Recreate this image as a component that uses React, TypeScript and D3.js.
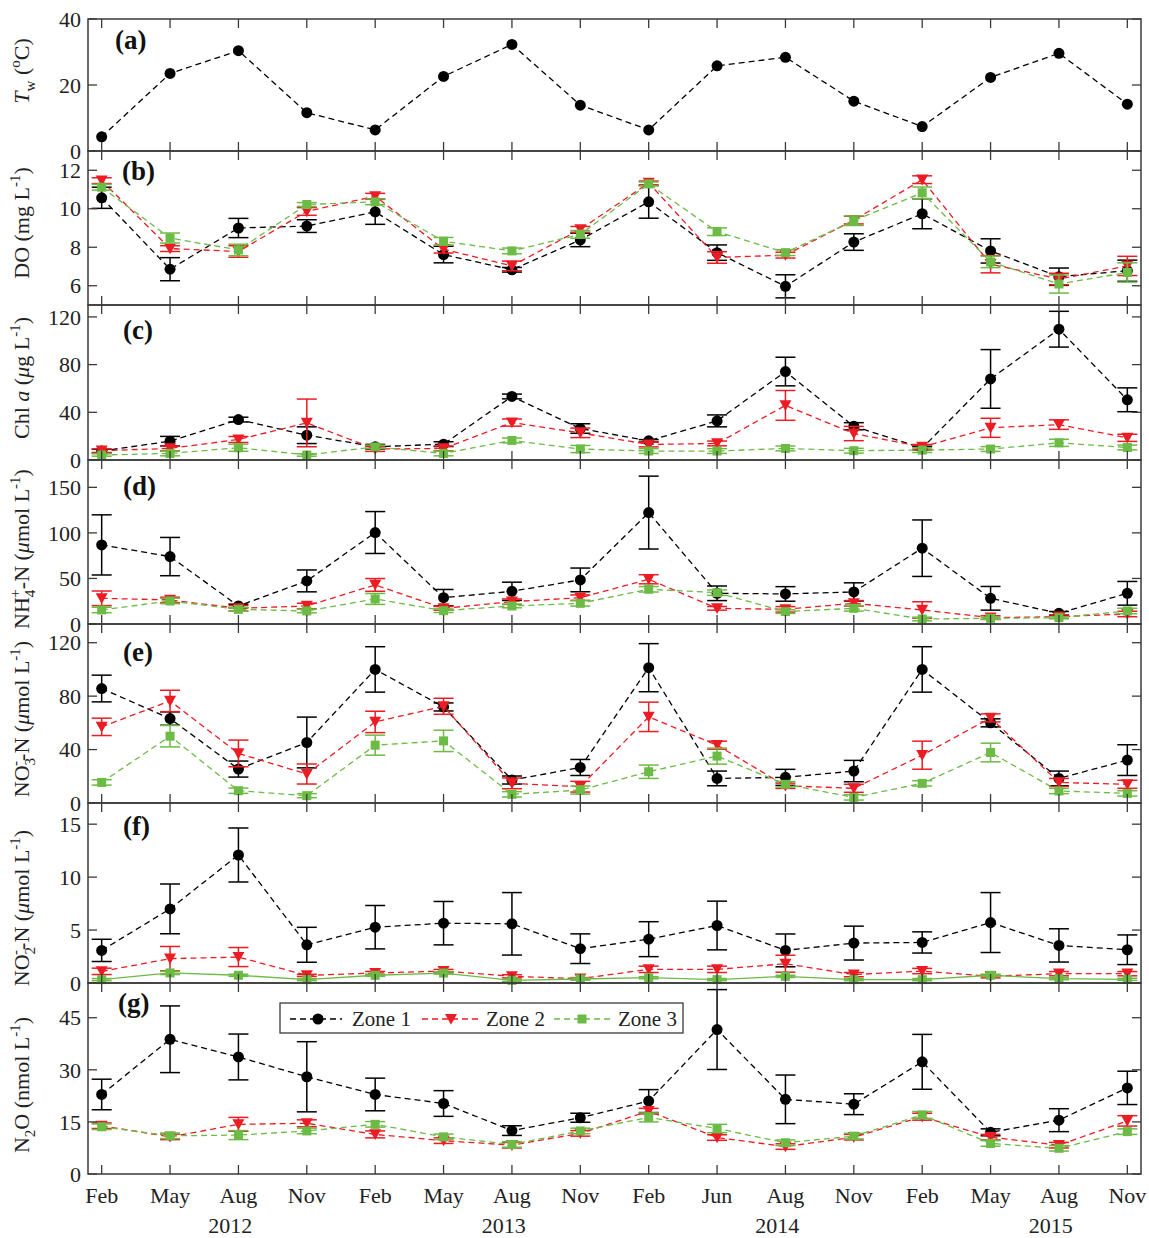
import React from 'react';
import * as d3 from 'd3';

const months = ['Feb','May','Aug','Nov','Feb','May','Aug','Nov','Feb','Jun','Aug','Nov','Feb','May','Aug','Nov'];
const years = ['2012','2013','2014','2015'];
const zones = ['Zone 1','Zone 2','Zone 3'];

const tw = [4.3, 23.5, 30.4, 11.6, 6.4, 22.6, 32.3, 13.9, 6.4, 25.8, 28.4, 15.1, 7.4, 22.3, 29.6, 14.2];

const doZ1 = [10.57, 6.86, 9.0, 9.1, 9.84, 7.62, 6.83, 8.38, 10.36, 7.72, 5.97, 8.27, 9.74, 7.81, 6.47, 6.78];
const doZ1Err = [0.55, 0.6, 0.5, 0.33, 0.65, 0.43, 0.12, 0.35, 0.85, 0.4, 0.6, 0.43, 0.78, 0.63, 0.45, 0.55];
const doZ2 = [11.46, 7.93, 7.78, 9.86, 10.65, 7.9, 7.03, 8.93, 11.34, 7.47, 7.59, 9.41, 11.51, 7.12, 6.35, 7.03];
const doZ2Err = [0.15, 0.15, 0.3, 0.2, 0.15, 0.2, 0.25, 0.15, 0.1, 0.3, 0.15, 0.2, 0.2, 0.45, 0.3, 0.5];
const doZ3 = [11.12, 8.48, 7.86, 10.22, 10.36, 8.31, 7.81, 8.67, 11.29, 8.81, 7.72, 9.38, 10.83, 7.24, 6.09, 6.69];
const doZ3Err = [0.15, 0.26, 0.3, 0.1, 0.15, 0.2, 0.15, 0.2, 0.1, 0.2, 0.15, 0.25, 0.3, 0.3, 0.47, 0.5];

const chlZ1 = [7.5, 15.8, 33.9, 20.8, 11.1, 13.3, 53.3, 26.4, 16.1, 32.8, 74.2, 28.3, 10, 68, 109.7, 50.5];
const chlZ1Err = [1.5, 4, 2, 7, 2, 2, 2, 4, 1, 5, 12, 3, 1.5, 24.6, 15, 10];
const chlZ2 = [7.8, 9.7, 17.2, 31.1, 9.2, 9.7, 31.4, 22.8, 13, 13.9, 45.8, 22.2, 11, 27, 29.7, 18.6];
const chlZ2Err = [1.5, 2, 2.5, 20, 2, 2, 3, 4, 2, 2, 12.5, 6, 2, 8, 4, 3];
const chlZ3 = [4.2, 5.5, 10.3, 4.2, 11, 5.5, 16.4, 9.2, 7.5, 7.5, 9.7, 7.8, 8.3, 9.2, 14.4, 10.5];
const chlZ3Err = [1, 2, 3, 1, 1.5, 2, 2, 3, 2, 2, 2, 2, 2, 2, 3, 2];

const nhZ1 = [86.8, 74, 19.8, 47.3, 100.4, 28.9, 35.9, 48.4, 122.3, 33.7, 33, 35.2, 83.2, 28.2, 11.7, 33.7];
const nhZ1Err = [33, 21, 2, 12, 23, 9, 10, 13, 40, 8, 8, 10, 31, 13, 2, 13];
const nhZ2 = [28.2, 26.4, 17.2, 19.8, 42.9, 17.2, 24.5, 28.9, 49.1, 17.2, 16.1, 22.7, 15.4, 7, 8, 11];
const nhZ2Err = [8, 3, 3, 3, 7, 2, 3, 3, 5, 2, 3, 3, 9, 2, 2, 3];
const nhZ3 = [15.4, 25.3, 16.1, 14.3, 27.5, 14.6, 19.8, 22.7, 38.1, 34.4, 13.6, 17.2, 5.5, 6.2, 7, 14.3];
const nhZ3Err = [3, 3, 2, 2, 6, 2, 2, 3, 3, 3, 2, 3, 2, 1, 1, 3];

const no3Z1 = [85.7, 63.2, 25.4, 45.3, 100, 71.9, 17.2, 26.6, 101.3, 18.4, 19.2, 23.9, 100, 60, 18.4, 32.1];
const no3Z1Err = [10, 5, 6, 19, 17, 3, 3, 6, 18, 5.5, 6, 8, 17, 3, 5.5, 11.5];
const no3Z2 = [57, 76.4, 37.1, 21.7, 60.7, 72.4, 14.7, 12.2, 64.5, 43.3, 12.9, 11, 35.8, 63.7, 15.4, 14];
const no3Z2Err = [6.5, 8, 10, 7.5, 8, 6, 4, 4, 11, 3, 2, 3, 10.5, 3, 3, 3];
const no3Z3 = [15.4, 50, 9.2, 5.5, 43.3, 46.5, 6.5, 9.7, 23.4, 35.1, 14, 4.2, 14.7, 37.8, 9, 7.2];
const no3Z3Err = [2, 8, 2, 1.5, 7.5, 8, 2, 3, 5, 6, 2, 2, 2, 7, 2, 2];

const no2Z1 = [3.08, 7.0, 12.09, 3.61, 5.27, 5.65, 5.59, 3.24, 4.14, 5.43, 3.08, 3.77, 3.83, 5.71, 3.55, 3.14];
const no2Z1Err = [1.05, 2.35, 2.55, 1.65, 2.05, 2.05, 2.95, 1.4, 1.65, 2.3, 1.55, 1.6, 1.0, 2.83, 1.57, 1.4];
const no2Z2 = [1.1, 2.3, 2.45, 0.72, 0.94, 1.13, 0.63, 0.41, 1.29, 1.29, 1.82, 0.79, 1.13, 0.63, 0.88, 0.88];
const no2Z2Err = [0.3, 1.15, 0.9, 0.1, 0.15, 0.15, 0.15, 0.1, 0.3, 0.3, 0.8, 0.2, 0.25, 0.15, 0.2, 0.2];
const no2Z3 = [0.32, 0.95, 0.73, 0.32, 0.73, 0.94, 0.25, 0.38, 0.5, 0.32, 0.63, 0.32, 0.32, 0.73, 0.41, 0.35];
const no2Z3Err = [0.1, 0.15, 0.1, 0.1, 0.1, 0.1, 0.1, 0.1, 0.1, 0.1, 0.1, 0.1, 0.1, 0.1, 0.1, 0.1];

const n2oZ1 = [22.9, 38.8, 33.7, 28, 22.9, 20.3, 12.5, 16.2, 21, 41.6, 21.5, 20.1, 32.3, 12, 15.5, 24.8];
const n2oZ1Err = [4.4, 9.6, 6.6, 10.1, 4.7, 3.7, 1.4, 1.3, 3.3, 11.5, 7, 3, 7.9, 1, 3.3, 4.8];
const n2oZ2 = [13.9, 10.7, 14.3, 14.6, 11.4, 9.6, 8.3, 11.7, 18.1, 10.5, 7.9, 10.6, 16.5, 10.6, 8.3, 15.3];
const n2oZ2Err = [0.8, 0.8, 2, 1, 1, 0.8, 0.8, 0.8, 0.8, 0.8, 0.8, 0.8, 1, 0.8, 0.8, 1.5];
const n2oZ3 = [13.6, 11, 11.2, 12.4, 14.3, 10.7, 8.5, 12.4, 16.3, 13.1, 9, 10.9, 17, 8.8, 7.4, 12.2];
const n2oZ3Err = [0.8, 0.8, 1.3, 0.8, 0.8, 0.8, 0.8, 0.8, 1.3, 1.2, 0.8, 0.8, 1, 0.8, 0.8, 0.8];

const COLORS = ['#000000', '#ec1c24', '#6cbb45'];
const AXIS = '#3a3a3a';
const FONT = '"Liberation Serif", "Times New Roman", serif';

type Seg = { t: string; s?: 'sub' | 'sup'; it?: boolean; back?: number };

const panels = [
  { tag: '(a)', tagX: 115, tagY: 49, top: 19, bottom: 151, domain: [0, 40], ticks: [0, 20, 40], labelY: 71,
    label: [{ t: 'T', it: true }, { t: 'w', s: 'sub' }, { t: ' (' }, { t: 'o', s: 'sup' }, { t: 'C)' }] as Seg[],
    series: [{ v: tw, e: null as number[] | null }] },
  { tag: '(b)', tagX: 122, tagY: 180, top: 151, bottom: 305, domain: [5, 13], ticks: [6, 8, 10, 12], labelY: 223,
    label: [{ t: 'DO (mg L' }, { t: '-1', s: 'sup' }, { t: ')' }] as Seg[],
    series: [{ v: doZ1, e: doZ1Err }, { v: doZ2, e: doZ2Err }, { v: doZ3, e: doZ3Err }] },
  { tag: '(c)', tagX: 123, tagY: 339, top: 305, bottom: 460, domain: [0, 130], ticks: [0, 40, 80, 120], labelY: 378,
    label: [{ t: 'Chl ' }, { t: 'a', it: true }, { t: ' (' }, { t: 'μ', it: true }, { t: 'g L' }, { t: '-1', s: 'sup' }, { t: ')' }] as Seg[],
    series: [{ v: chlZ1, e: chlZ1Err }, { v: chlZ2, e: chlZ2Err }, { v: chlZ3, e: chlZ3Err }] },
  { tag: '(d)', tagX: 123, tagY: 495, top: 460, bottom: 624, domain: [0, 180], ticks: [0, 50, 100, 150], labelY: 549,
    label: [{ t: 'NH' }, { t: '4', s: 'sub' }, { t: '+', s: 'sup', back: 8 }, { t: '-N (' }, { t: 'μ', it: true }, { t: 'mol L' }, { t: '-1', s: 'sup' }, { t: ')' }] as Seg[],
    series: [{ v: nhZ1, e: nhZ1Err }, { v: nhZ2, e: nhZ2Err }, { v: nhZ3, e: nhZ3Err }] },
  { tag: '(e)', tagX: 123, tagY: 661, top: 624, bottom: 803, domain: [0, 134], ticks: [0, 40, 80, 120], labelY: 719,
    label: [{ t: 'NO' }, { t: '3', s: 'sub' }, { t: '-', s: 'sup', back: 8 }, { t: '-N (' }, { t: 'μ', it: true }, { t: 'mol L' }, { t: '-1', s: 'sup' }, { t: ')' }] as Seg[],
    series: [{ v: no3Z1, e: no3Z1Err }, { v: no3Z2, e: no3Z2Err }, { v: no3Z3, e: no3Z3Err }] },
  { tag: '(f)', tagX: 123, tagY: 835, top: 803, bottom: 983, domain: [0, 17], ticks: [0, 5, 10, 15], labelY: 908, solidLast: true,
    label: [{ t: 'NO' }, { t: '2', s: 'sub' }, { t: '-', s: 'sup', back: 8 }, { t: '-N (' }, { t: 'μ', it: true }, { t: 'mol L' }, { t: '-1', s: 'sup' }, { t: ')' }] as Seg[],
    series: [{ v: no2Z1, e: no2Z1Err }, { v: no2Z2, e: no2Z2Err }, { v: no2Z3, e: no2Z3Err }] },
  { tag: '(g)', tagX: 118, tagY: 1012, top: 983, bottom: 1174, domain: [0, 55], ticks: [0, 15, 30, 45], labelY: 1085,
    label: [{ t: 'N' }, { t: '2', s: 'sub' }, { t: 'O (nmol L' }, { t: '-1', s: 'sup' }, { t: ')' }] as Seg[],
    series: [{ v: n2oZ1, e: n2oZ1Err }, { v: n2oZ2, e: n2oZ2Err }, { v: n2oZ3, e: n2oZ3Err }] },
];

const LEFT = 88;
const RIGHT = 1141;
const x = d3.scaleLinear().domain([-0.2, 15.2]).range([LEFT, RIGHT]);
const TICK = 9;

function Marker({ kind, cx, cy }: { kind: number; cx: number; cy: number }) {
  if (kind === 0) return <circle cx={cx} cy={cy} r={5.5} fill={COLORS[0]} />;
  if (kind === 1) {
    const s = 6;
    return <path d={`M${cx - s},${cy - s * 0.85}L${cx + s},${cy - s * 0.85}L${cx},${cy + s * 0.95}Z`} fill={COLORS[1]} />;
  }
  return <rect x={cx - 4.5} y={cy - 4.5} width={9} height={9} fill={COLORS[2]} />;
}

function Label({ segs, cx, cy }: { segs: Seg[]; cx: number; cy: number }) {
  let shift = 0;
  const parts = segs.map((sg, i) => {
    const target = sg.s === 'sub' ? 6 : sg.s === 'sup' ? -9 : 0;
    const dy = target - shift;
    shift = target;
    return (
      <tspan key={i} dy={dy} dx={sg.back ? -sg.back : 0} fontSize={sg.s ? 15 : 22} fontStyle={sg.it ? 'italic' : 'normal'}>
        {sg.t}
      </tspan>
    );
  });
  return (
    <text transform={`translate(${cx},${cy}) rotate(-90)`} textAnchor="middle" fontFamily={FONT} fill="#222">
      {parts}
    </text>
  );
}

function Panel({ p }: { p: typeof panels[number] }) {
  const y = d3.scaleLinear().domain(p.domain).range([p.bottom, p.top]);
  const idx = d3.range(months.length);
  return (
    <g>
      {p.series.map((s, k) => {
        const line = d3.line<number>().x((i) => x(i)).y((i) => y(s.v[i]));
        const solid = (p as any).solidLast && k === 2;
        return (
          <g key={k}>
            <path d={line(idx) || ''} fill="none" stroke={COLORS[k]} strokeWidth={1.3} strokeDasharray={solid ? undefined : '6,4'} />
            {s.e && idx.map((i) => {
              const e = s.e![i];
              const y1 = y(s.v[i] + e);
              const y2 = y(s.v[i] - e);
              const cx = x(i);
              return (
                <g key={i} stroke={COLORS[k]} strokeWidth={1.5}>
                  <line x1={cx} x2={cx} y1={y1} y2={y2} />
                  <line x1={cx - 10} x2={cx + 10} y1={y1} y2={y1} />
                  <line x1={cx - 10} x2={cx + 10} y1={y2} y2={y2} />
                </g>
              );
            })}
            {idx.map((i) => <Marker key={i} kind={k} cx={x(i)} cy={y(s.v[i])} />)}
          </g>
        );
      })}
      <rect x={LEFT} y={p.top} width={RIGHT - LEFT} height={p.bottom - p.top} fill="none" stroke={AXIS} strokeWidth={1.5} />
      {idx.map((i) => (
        <g key={i} stroke={AXIS} strokeWidth={1.3}>
          <line x1={x(i)} x2={x(i)} y1={p.top} y2={p.top + TICK} />
          <line x1={x(i)} x2={x(i)} y1={p.bottom} y2={p.bottom - TICK} />
        </g>
      ))}
      {p.ticks.map((t) => (
        <g key={t}>
          <line x1={LEFT} x2={LEFT + TICK} y1={y(t)} y2={y(t)} stroke={AXIS} strokeWidth={1.3} />
          <line x1={RIGHT} x2={RIGHT - TICK} y1={y(t)} y2={y(t)} stroke={AXIS} strokeWidth={1.3} />
          <text x={LEFT - 7} y={y(t)} dy="0.35em" textAnchor="end" fontFamily={FONT} fontSize={22} fill="#222">{t}</text>
        </g>
      ))}
      <text x={p.tagX} y={p.tagY} fontFamily={FONT} fontSize={27} fontWeight="bold" fill="#111">{p.tag}</text>
      <Label segs={p.label} cx={29} cy={p.labelY} />
    </g>
  );
}

function Legend() {
  const top = 1003, bottom = 1033, left = 280, right = 683;
  const cy = 1019;
  const items = [
    { x1: 290, x2: 342, m: 318, tx: 352 },
    { x1: 422, x2: 480, m: 451, tx: 486 },
    { x1: 554, x2: 613, m: 582, tx: 618 },
  ];
  return (
    <g>
      <rect x={left} y={top} width={right - left} height={bottom - top} fill="#fff" stroke={AXIS} strokeWidth={1.3} />
      {items.map((it, k) => (
        <g key={k}>
          <line x1={it.x1} x2={it.x2} y1={cy} y2={cy} stroke={COLORS[k]} strokeWidth={1.3} strokeDasharray="6,4" />
          <Marker kind={k} cx={it.m} cy={cy} />
          <text x={it.tx} y={cy} dy="0.35em" fontFamily={FONT} fontSize={21} fill="#222">{zones[k]}</text>
        </g>
      ))}
    </g>
  );
}

export default function App() {
  const last = panels[panels.length - 1];
  return (
    <svg width={1149} height={1238} style={{ position: 'absolute', left: 0, top: 0, background: '#fff' }}>
      <rect width={1149} height={1238} fill="#fff" />
      {panels.map((p) => <Panel key={p.tag} p={p} />)}
      <Legend />
      {months.map((m, i) => (
        <text key={i} x={x(i)} y={last.bottom + 29} textAnchor="middle" fontFamily={FONT} fontSize={22} fill="#222">{m}</text>
      ))}
      {years.map((yr, j) => (
        <text key={yr} x={x(j * 4 + 1.88)} y={last.bottom + 59} textAnchor="middle" fontFamily={FONT} fontSize={22} fill="#222">{yr}</text>
      ))}
    </svg>
  );
}
